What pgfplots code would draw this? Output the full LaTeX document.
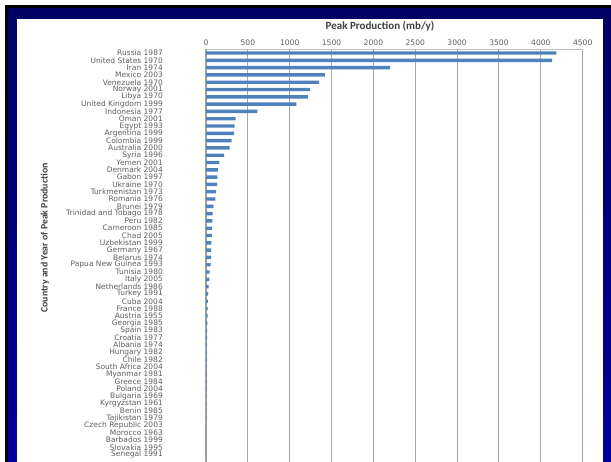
\documentclass[border=0pt]{standalone}
\usepackage{pgfplots}
\pgfplotsset{compat=1.18}
\usepackage{pgfplotstable}
\usepackage{fontspec}
\setmainfont{DejaVu Sans}
\newfontfamily\carlito{Carlito}
\definecolor{barblue}{HTML}{4F81BD}
\definecolor{navytop}{RGB}{0,0,100}
\definecolor{navybot}{RGB}{0,0,160}
\definecolor{ticktext}{HTML}{5F5F5F}
\definecolor{titletext}{HTML}{404040}
\pgfplotstableread[col sep=comma]{
k,val,name
1,4187,Russia 1987
2,4135,United States 1970
3,2201,Iran 1974
4,1419,Mexico 2003
5,1352,Venezuela 1970
6,1244,Norway 2001
7,1216,Libya 1970
8,1080,United Kingdom 1999
9,614,Indonesia 1977
10,355,Oman 2001
11,343,Egypt 1993
12,335,Argentina 1999
13,307,Colombia 1999
14,283,Australia 2000
15,217,Syria 1996
16,160,Yemen 2001
17,143,Denmark 2004
18,136,Gabon 1997
19,132,Ukraine 1970
20,120,Turkmenistan 1973
21,112,Romania 1976
22,88,Brunei 1979
23,80,Trinidad and Tobago 1978
24,76,Peru 1982
25,72,Cameroon 1985
26,70,Chad 2005
27,64,Uzbekistan 1999
28,62,Germany 1967
29,60,Belarus 1974
30,55,Papua New Guinea 1993
31,42,Tunisia 1980
32,40,Italy 2005
33,32,Netherlands 1986
34,26,Turkey 1991
35,22,Cuba 2004
36,20,France 1988
37,18,Austria 1955
38,16,Georgia 1985
39,14,Spain 1983
40,12,Croatia 1977
41,11,Albania 1974
42,10,Hungary 1982
43,9,Chile 1982
44,8,South Africa 2004
45,7,Myanmar 1981
46,6,Greece 1984
47,6,Poland 2004
48,5,Bulgaria 1969
49,4,Kyrgyzstan 1961
50,3.5,Benin 1985
51,3,Tajikistan 1979
52,2.5,Czech Republic 2003
53,2,Morocco 1963
54,1.5,Barbados 1999
55,1,Slovakia 1995
56,1,Senegal 1991
}\data
\begin{document}
\begin{tikzpicture}
\useasboundingbox (0pt,0pt) rectangle (611pt,-461pt);
\fill[white] (0pt,0pt) rectangle (611pt,-461pt);
\fill[black] (5pt,-5pt) rectangle (611pt,-470pt);
\shade[top color=navytop,bottom color=navybot] (8pt,-8pt) rectangle (611pt,-470pt);
\fill[white] (17pt,-19pt) rectangle (603pt,-470pt);
\begin{axis}[
  at={(206pt,-49.35pt)}, anchor=north west,
  scale only axis, width=376.7pt, height=416.1pt,
  xbar, bar width=3.4pt,
  xmin=0, xmax=4500, xtick={0,500,...,4500},
  ymin=0.5, ymax=57.5, y dir=reverse,
  ytick={1,...,56},
  yticklabels from table={\data}{name},
  minor ytick={0.5,1.5,...,56.5},
  axis x line*=top, axis y line*=left,
  axis line style={-, draw=black!40},
  x axis line style={draw=black!25},
  xmajorgrids, major grid style={draw=black!35, line width=1pt},
  major tick length=0pt, minor tick length=2.5pt,
  minor tick style={draw=black!45}, 
  ytick style={draw=none},
  tick align=outside,
  /pgf/number format/assume math mode=true,
  /pgf/number format/1000 sep={},
  xticklabel style={font=\fontsize{7.6}{8}\selectfont, text=ticktext, inner sep=0pt, anchor=south, yshift=4pt},
  yticklabel style={font=\fontsize{7.5}{8}\selectfont, text=ticktext, inner sep=0pt, anchor=east, xshift=-43pt},
  clip=false,
]
\addplot[fill=barblue, draw=none] table[x=val, y=k] {\data};
\end{axis}
\node[font=\carlito\bfseries\fontsize{11}{12}\selectfont, text=titletext] at (380pt,-26pt) {Peak Production (mb/y)};
\node[font=\carlito\bfseries\fontsize{9.8}{11}\selectfont, text=titletext, rotate=90] at (45pt,-238pt) {Country and Year of Peak Production};
\end{tikzpicture}
\end{document}
